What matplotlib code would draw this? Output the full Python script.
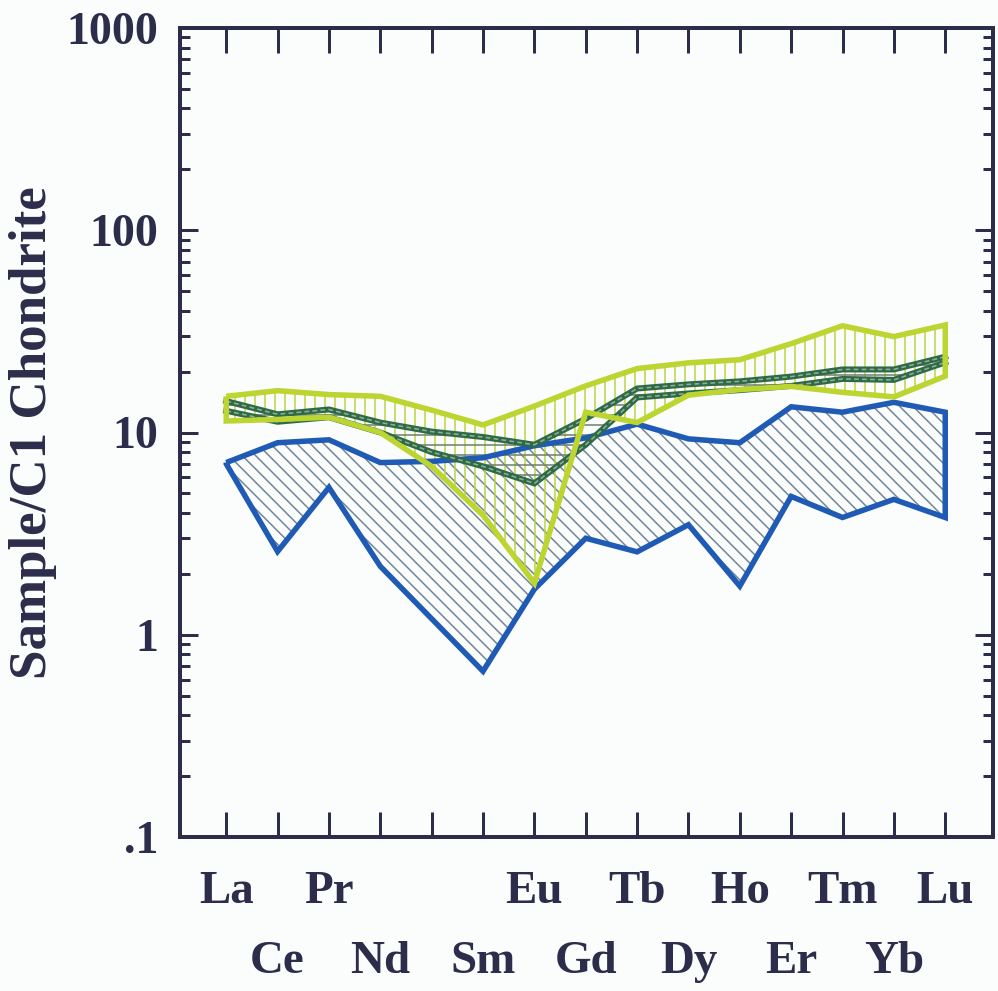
import matplotlib
matplotlib.use("Agg")
import matplotlib.pyplot as plt
import numpy as np

# ---------------- data ----------------
elements = ["La", "Ce", "Pr", "Nd", "Pm", "Sm", "Eu", "Gd", "Tb", "Dy", "Ho", "Er", "Tm", "Yb", "Lu"]
row1_labels = ["La", "Pr", "Eu", "Tb", "Ho", "Tm", "Lu"]
row2_labels = ["Ce", "Nd", "Sm", "Gd", "Dy", "Er", "Yb"]

blue_upper = [7.1, 8.9, 9.2, 7.1, 7.2, 7.5, 8.6, 9.4, 11.0, 9.3, 8.9, 13.4, 12.6, 14.1, 12.6]
blue_lower = [7.0, 2.58, 5.35, 2.18, 1.2, 0.66, 1.68, 3.0, 2.57, 3.5, 1.74, 4.83, 3.8, 4.67, 3.8]

yellow_upper = [15.1, 16.1, 15.4, 15.1, 12.9, 10.9, 13.5, 17.0, 20.7, 22.1, 22.9, 27.5, 33.7, 29.8, 34.0]
yellow_lower = [11.4, 11.6, 11.9, 10.0, 6.8, 3.9, 1.8, 12.6, 11.2, 15.3, 16.3, 16.9, 15.8, 15.0, 19.0]

green_upper = [14.3, 12.3, 13.0, 11.2, 10.1, 9.5, 8.7, 11.7, 16.5, 17.3, 17.9, 18.9, 20.5, 20.5, 23.7]
green_lower = [12.8, 11.3, 11.9, 10.0, 8.0, 6.8, 5.6, 8.7, 14.9, 15.6, 16.2, 17.0, 18.4, 18.2, 22.2]

y_ticks = [0.1, 1, 10, 100, 1000]
y_tick_labels = [".1", "1", "10", "100", "1000"]

# ---------------- style ----------------
DPI = 120
W, H = 999, 991
BG = "#fbfcfc"
INK = "#2b2d4a"
BLUE = "#1f5bb5"
BLUE_HATCH = "#6f8598"
YEL = "#bdd531"
YEL_HATCH = "#bcd33c"
GREEN = "#2f6a47"
GREEN_DASH = "#8fae98"
GREEN_HATCH = "#6b7b70"

def px(v):
    return v * 72.0 / DPI

plt.rcParams["font.family"] = ["Liberation Serif", "DejaVu Serif"]
plt.rcParams["font.weight"] = "bold"
plt.rcParams["hatch.linewidth"] = px(1.5)

fig = plt.figure(figsize=(W / DPI, H / DPI), dpi=DPI, facecolor=BG)
ax = fig.add_axes([180 / W, (H - 837) / H, (993 - 180) / W, (837 - 28) / H])
ax.set_facecolor(BG)

x = np.arange(len(elements))
row1_pos = [elements.index(e) for e in row1_labels]
row2_names = [e for e in elements if e not in row1_labels]  # includes Pm (unlabelled)
row2_pos = [elements.index(e) for e in row2_names]
row2_text = [e if e in row2_labels else "" for e in row2_names]

def outline(upper, lower, color, lw, **kw):
    xs = np.concatenate([x, x[::-1], x[:1]])
    ys = np.concatenate([upper, lower[::-1], upper[:1]])
    return ax.plot(xs, ys, color=color, lw=lw, solid_joinstyle="miter",
                   solid_capstyle="butt", **kw)

bu, bl = np.array(blue_upper), np.array(blue_lower)
yu, yl = np.array(yellow_upper), np.array(yellow_lower)
gu, gl = np.array(green_upper), np.array(green_lower)

# hatched fills
ax.fill_between(x, bl, bu, facecolor="none", edgecolor=BLUE_HATCH, hatch="\\\\\\", linewidth=0, zorder=1)
ax.fill_between(x, yl, yu, facecolor="none", edgecolor=YEL_HATCH, hatch="||", linewidth=0, zorder=1.2)
ax.fill_between(x, gl, gu, facecolor="none", edgecolor=GREEN_HATCH, hatch="--", linewidth=0, zorder=1.4)

# outlines
outline(bu, bl, BLUE, px(5.5), zorder=3)
for series in (gu, gl):
    ax.plot(x, series, color=GREEN, lw=px(6), solid_joinstyle="miter", zorder=4)
    ax.plot(x, series, color=GREEN_DASH, lw=px(1.6), dashes=(3, 2), zorder=4.1)
for i in (0, len(x) - 1):
    ax.plot([x[i], x[i]], [gl[i], gu[i]], color=GREEN, lw=px(5), zorder=4)
outline(yu, yl, YEL, px(5.5), zorder=5)

# axes
ax.set_yscale("log")
ax.set_ylim(0.1, 1000)
ax.set_xlim(-0.9, 14.93)
ax.set_yticks(y_ticks)
ax.set_yticklabels(y_tick_labels)
ax.yaxis.set_minor_locator(matplotlib.ticker.LogLocator(base=10, subs=np.arange(2, 10)))
ax.yaxis.set_minor_formatter(matplotlib.ticker.NullFormatter())

ax.set_xticks(row1_pos)
ax.set_xticklabels(row1_labels)
ax.set_xticks(row2_pos, minor=True)
ax.set_xticklabels(row2_text, minor=True)

ax.tick_params(axis="y", which="major", direction="in", length=px(18), width=px(3),
               left=True, right=True, color=INK, labelsize=px(46), labelcolor=INK, pad=px(22))
ax.tick_params(axis="y", which="minor", direction="in", length=px(10), width=px(3),
               left=True, right=True, color=INK)
ax.tick_params(axis="x", which="major", direction="in", length=px(25), width=px(3),
               top=True, bottom=True, color=INK, labelsize=px(47), labelcolor=INK, pad=px(34))
ax.tick_params(axis="x", which="minor", direction="in", length=px(25), width=px(3),
               top=True, bottom=True, color=INK, labelsize=px(47), labelcolor=INK, pad=px(104))

for s in ax.spines.values():
    s.set_linewidth(px(4))
    s.set_color(INK)

ax.set_ylabel("Sample/C1 Chondrite", fontsize=px(53), color=INK, fontweight="bold")
ax.yaxis.set_label_coords(-0.151, 0.5)

fig.savefig("out.png", dpi=DPI, facecolor=BG)
